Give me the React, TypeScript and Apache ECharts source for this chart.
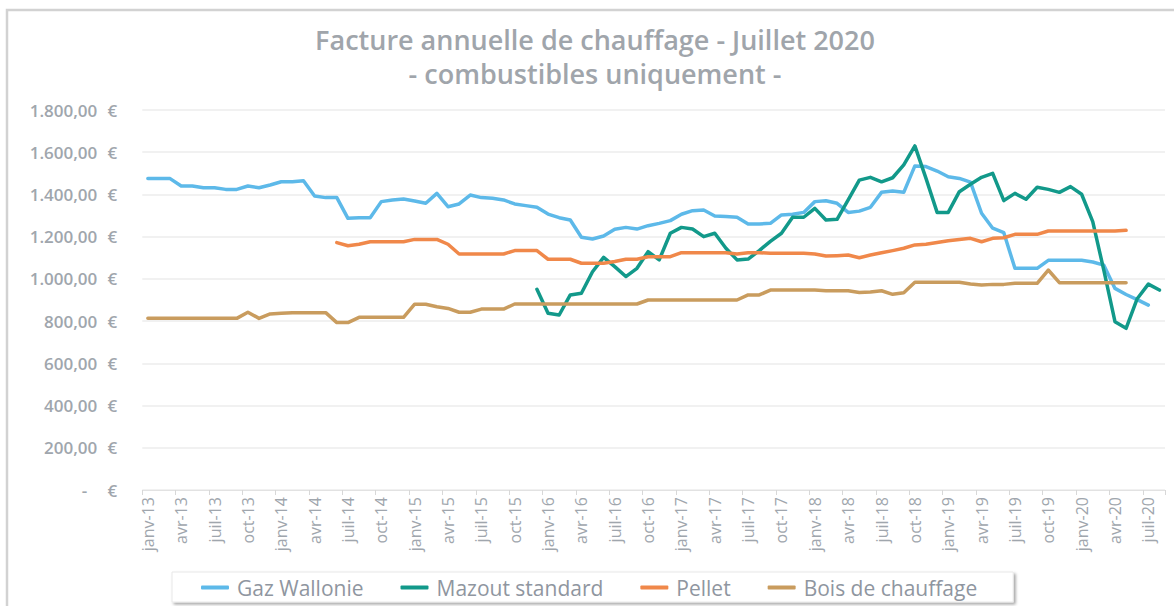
import React, { useEffect, useRef } from "react";
import * as echarts from "echarts";

const MONTH_NAMES = ["janv", "févr", "mars", "avr", "mai", "juin", "juil", "août", "sept", "oct", "nov", "déc"];
const YEARS = ["13", "14", "15", "16", "17", "18", "19", "20"];
const MONTH_COUNT = 92; // janv-13 .. août-20

const TITLE = "Facture annuelle de chauffage - Juillet 2020\n- combustibles uniquement -";
const SERIES_NAMES = ["Gaz Wallonie", "Mazout standard", "Pellet", "Bois de chauffage"];
const COLORS = ["#5DB9E9", "#12998A", "#F0884A", "#C99C5E"];

// Gaz Wallonie: janv-13 .. juil-20
const GAZ_START = 0;
const GAZ = [
  1475, 1475, 1475, 1440, 1440, 1432, 1432, 1424, 1424, 1440, 1432, 1445,
  1460, 1460, 1465, 1393, 1385, 1385, 1287, 1290, 1290, 1366, 1374, 1378,
  1369, 1358, 1405, 1342, 1355, 1397, 1385, 1382, 1374, 1355, 1347, 1339,
  1307, 1290, 1279, 1197, 1189, 1203, 1235, 1244, 1236, 1252, 1263, 1276,
  1306, 1323, 1326, 1298, 1295, 1292, 1260, 1260, 1263, 1303, 1306, 1315,
  1366, 1370, 1358, 1315, 1321, 1339, 1410, 1416, 1410, 1535, 1532, 1511,
  1484, 1476, 1458, 1311, 1240, 1219, 1050, 1050, 1050, 1088, 1088, 1088,
  1088, 1080, 1065, 955, 926, 902, 876,
];

// Mazout standard: déc-15 .. août-20
const MAZOUT_START = 35;
const MAZOUT = [
  951,
  837, 829, 924, 932, 1034, 1102, 1058, 1011, 1050, 1129, 1090, 1216,
  1244, 1236, 1200, 1216, 1145, 1090, 1094, 1134, 1178, 1216, 1292, 1292,
  1334, 1279, 1282, 1374, 1468, 1481, 1460, 1479, 1540, 1630, 1476, 1315,
  1315, 1413, 1448, 1481, 1500, 1371, 1405, 1377, 1434, 1424, 1410, 1437,
  1401, 1271, 1040, 797, 766, 906, 975, 947,
];

// Pellet: juin-14 .. mai-20
const PELLET_START = 17;
const PELLET = [
  1172, 1157, 1164, 1176, 1176, 1176, 1176,
  1187, 1187, 1187, 1164, 1118, 1118, 1118, 1118, 1118, 1134, 1134, 1134,
  1093, 1093, 1093, 1074, 1074, 1074, 1082, 1093, 1093, 1105, 1105, 1105,
  1124, 1124, 1124, 1124, 1124, 1118, 1124, 1124, 1121, 1121, 1121, 1121,
  1118, 1108, 1110, 1113, 1100, 1113, 1124, 1134, 1145, 1161, 1164, 1172,
  1181, 1187, 1192, 1176, 1192, 1195, 1211, 1211, 1211, 1227, 1227, 1227,
  1227, 1227, 1227, 1227, 1230,
];

// Bois de chauffage: janv-13 .. mai-20
const BOIS_START = 0;
const BOIS = [
  813, 813, 813, 813, 813, 813, 813, 813, 813, 842, 813, 834,
  837, 840, 840, 840, 840, 793, 793, 818, 818, 818, 818, 818,
  880, 880, 868, 860, 842, 842, 857, 857, 857, 881, 881, 881,
  881, 881, 881, 881, 881, 881, 881, 881, 881, 900, 900, 900,
  900, 900, 900, 900, 900, 900, 924, 924, 947, 947, 947, 947,
  947, 944, 944, 944, 936, 938, 944, 927, 934, 984, 984, 984,
  984, 984, 976, 971, 974, 974, 979, 979, 979, 1042, 982, 982,
  982, 982, 982, 982, 982,
];

const Y_MIN = 0;
const Y_MAX = 1800;
const Y_STEP = 200;

function buildCategories(): string[] {
  const out: string[] = [];
  for (let i = 0; i < MONTH_COUNT; i++) {
    out.push(MONTH_NAMES[i % 12] + "-" + YEARS[Math.floor(i / 12)]);
  }
  return out;
}

function place(start: number, values: number[]): (number | null)[] {
  const out: (number | null)[] = new Array(MONTH_COUNT).fill(null);
  values.forEach((v, k) => {
    out[start + k] = v;
  });
  return out;
}

function fmtEuro(v: number): string {
  const s = Math.round(v).toString();
  const withDots = s.replace(/\B(?=(\d{3})+(?!\d))/g, ".");
  return withDots + ",00";
}

export default function App() {
  const ref = useRef<HTMLDivElement>(null);

  useEffect(() => {
    if (!ref.current) return;
    const chart = echarts.init(ref.current, undefined, { renderer: "svg" });
    const categories = buildCategories();
    const seriesData = [
      place(GAZ_START, GAZ),
      place(MAZOUT_START, MAZOUT),
      place(PELLET_START, PELLET),
      place(BOIS_START, BOIS),
    ];
    const labelColor = "#A0A6AD";
    const font = "'Open Sans', 'Noto Sans', sans-serif";
    const yl = { fontSize: 17, fontWeight: 600, color: labelColor, fontFamily: font };

    chart.setOption({
      animation: false,
      backgroundColor: "#ffffff",
      textStyle: { fontFamily: font },
      graphic: [
        {
          type: "rect",
          z: -1,
          shape: { x: 7, y: 10, width: 1400, height: 900 },
          style: { fill: "none", stroke: "#D2D2D2", lineWidth: 2.5 },
          silent: true,
        },
      ],
      title: {
        text: TITLE,
        left: 595,
        textAlign: "center",
        top: 22,
        padding: 0,
        textStyle: {
          fontFamily: font,
          fontSize: 27,
          fontWeight: 600,
          color: "#A0A5AB",
          lineHeight: 34.5,
        },
      },
      legend: {
        data: SERIES_NAMES,
        left: 172,
        top: 572,
        padding: [5, 36, 4, 29],
        itemGap: 37,
        itemWidth: 28,
        itemHeight: 4,
        icon: "roundRect",
        backgroundColor: "#ffffff",
        borderColor: "#E8E8E8",
        borderWidth: 1,
        shadowColor: "rgba(0,0,0,0.35)",
        shadowBlur: 3,
        shadowOffsetX: 2,
        shadowOffsetY: 2,
        textStyle: {
          fontFamily: font,
          fontSize: 21,
          color: "#8F96A0",
          padding: [0, 0, 0, 3],
        },
      },
      grid: {
        left: 142.3,
        right: 9,
        top: 110,
        bottom: 116,
        outerBoundsMode: "none",
        containLabel: false,
      },
      xAxis: {
        type: "category",
        data: categories,
        boundaryGap: true,
        axisLine: { show: true, lineStyle: { color: "#E2E2E2", width: 1 } },
        axisTick: { show: true, interval: 2, length: 5, lineStyle: { color: "#D8D8D8" } },
        axisLabel: {
          interval: 2,
          rotate: 90,
          margin: 7,
          fontFamily: font,
          fontSize: 16,
          color: labelColor,
        },
        splitLine: { show: false },
      },
      yAxis: {
        type: "value",
        min: Y_MIN,
        max: Y_MAX,
        interval: Y_STEP,
        axisLine: { show: false },
        axisTick: { show: false },
        splitLine: { lineStyle: { color: "#ECECEC", width: 1.5 } },
        axisLabel: {
          margin: 25,
          formatter: (v: number) =>
            v === 0 ? "{z|-}{ez|€}" : `{n|${fmtEuro(v)}}{e|€}`,
          rich: {
            n: { width: 77, align: "right", ...yl },
            e: { width: 20, align: "right", ...yl },
            z: { width: 67, align: "right", ...yl },
            ez: { width: 30, align: "right", ...yl },
          },
        },
      },
      series: SERIES_NAMES.map((name, idx) => ({
        name,
        type: "line",
        data: seriesData[idx],
        symbol: "none",
        connectNulls: false,
        color: COLORS[idx],
        lineStyle: { color: COLORS[idx], width: 3.5, join: "round", cap: "round" },
        itemStyle: { color: COLORS[idx] },
      })),
    });

    return () => chart.dispose();
  }, []);

  return (
    <div
      ref={ref}
      style={{ position: "fixed", left: 0, top: 0, width: 1174, height: 606 }}
    />
  );
}
